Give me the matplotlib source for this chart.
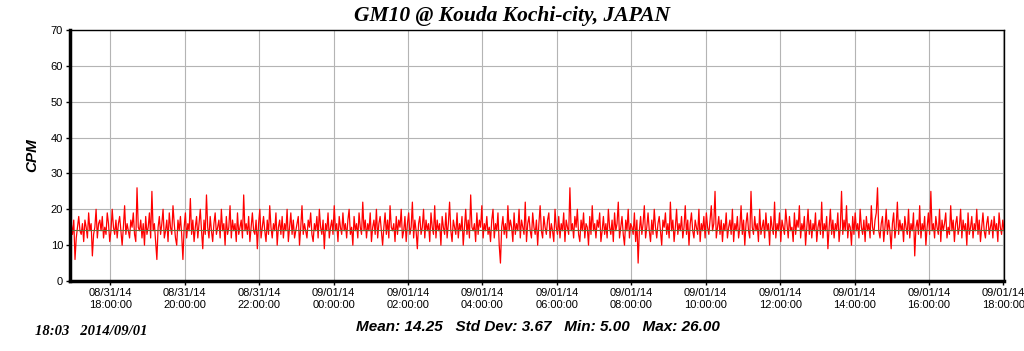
import numpy as np
import pandas as pd
import matplotlib
matplotlib.use('Agg')
from matplotlib import pyplot as plt
import matplotlib.dates as mdates

# CPM values, one every 2 minutes starting 08/31/14 16:55
cpm_text = '''
14 16 13 17 6 12 15 18 14 13 16 11 17 15 12 19 14 16 7 13 15 20 12 16
17 14 18 12 15 13 19 16 11 14 20 15 13 17 12 16 18 14 10 15 21 13 16 14
12 17 15 19 13 11 26 15 14 17 12 16 10 18 13 15 19 12 25 14 16 11 6 15
18 13 16 20 12 14 17 11 19 15 13 21 16 12 10 17 14 18 13 6 15 19 12 16
14 23 13 17 11 15 18 12 16 20 14 9 17 13 24 15 12 18 14 11 16 19 13 15
17 12 20 14 16 10 18 13 15 21 12 17 14 16 11 19 13 15 17 12 24 14 16 13
18 11 15 19 14 13 17 9 16 20 12 15 18 14 11 17 13 21 15 12 16 14 19 10
15 17 13 18 12 16 14 20 11 15 19 13 17 12 14 16 18 10 15 21 13 16 14 12
17 15 19 13 11 16 14 18 12 20 15 13 17 9 16 14 19 12 15 17 13 21 14 16
11 18 15 13 19 14 16 12 17 20 13 15 10 18 14 16 12 19 15 13 22 14 17 12
16 14 19 11 15 17 13 20 12 16 18 14 10 15 19 13 17 12 21 15 14 16 11 18
13 17 15 20 12 14 18 11 16 19 13 15 22 12 17 14 9 16 18 13 15 20 12 17
14 16 11 19 15 13 21 12 17 14 16 10 18 15 13 19 12 16 22 14 11 17 15 13
19 12 16 14 18 10 15 20 13 17 12 24 15 14 16 11 19 13 17 15 21 12 16 14
18 13 15 11 17 20 12 16 14 19 10 5 15 18 13 16 12 21 14 17 15 11 19 13
16 14 20 12 17 15 13 22 11 16 18 14 12 19 15 13 17 10 16 21 14 12 18 15
13 17 19 12 16 14 11 20 15 13 18 12 16 14 19 11 17 15 13 26 14 16 12 18
15 20 13 11 17 14 19 12 16 15 10 18 13 21 14 16 12 17 15 19 11 14 18 13
16 12 20 15 13 17 11 19 14 16 22 12 15 18 13 10 17 14 20 12 16 15 13 19
11 17 5 14 18 13 16 21 12 15 19 14 11 17 13 20 15 12 16 18 14 10 17 15
19 13 16 12 22 14 17 11 15 20 13 16 14 18 12 15 21 13 17 10 16 19 14 12
17 15 13 20 11 16 14 18 12 19 15 13 17 21 14 16 25 12 15 18 13 17 11 16
14 19 12 15 17 13 20 11 16 14 18 12 15 21 13 17 10 16 19 14 12 25 15 13
18 14 16 11 20 13 15 17 12 19 14 16 10 18 15 13 22 12 16 14 19 11 17 15
13 20 16 12 18 14 15 11 19 13 17 15 21 12 16 14 18 10 15 20 13 17 12 16
14 19 11 15 17 13 22 12 16 14 18 9 15 20 13 17 12 16 14 19 11 15 25 13
17 14 21 12 16 15 10 18 13 19 14 16 12 20 15 13 17 11 18 14 16 12 21 15
13 17 19 26 14 12 16 18 11 15 20 13 17 14 9 16 19 12 15 22 13 17 14 16
11 18 15 13 20 12 16 14 19 7 15 17 13 21 12 16 14 18 10 15 19 13 25 14
16 12 18 15 13 20 11 17 14 16 19 12 15 13 21 14 17 11 16 18 13 15 20 12
17 14 16 10 19 13 15 18 12 16 14 20 13 17 11 15 19 14 12 16 18 13 15 17
12 18 14 16 11 19 15 13 17 14 16 12 18 15 13 17 14 16 12 15 14 16 13 15
'''
cpm = [int(v) for v in cpm_text.split()]
times = pd.date_range('2014-08-31 16:55', periods=len(cpm), freq='2min')

mean_cpm = 14.25
title = 'GM10 @ Kouda Kochi-city, JAPAN'
stats = 'Mean: 14.25   Std Dev: 3.67   Min: 5.00   Max: 26.00'
stamp = '18:03   2014/09/01'

fig = plt.figure(figsize=(10.24, 3.51), dpi=100)
ax = fig.add_axes([0.0684, 0.1994, 0.9121, 0.7151])

ax.plot(times, cpm, color='red', lw=0.9)
ax.axhline(mean_cpm, color='#6b6b3a', lw=0.8)

ax.set_ylim(0, 70)
ax.set_yticks(range(0, 71, 10))
ax.set_xlim(pd.Timestamp('2014-08-31 16:55'), pd.Timestamp('2014-09-01 18:01'))
ax.xaxis.set_major_locator(mdates.HourLocator(byhour=range(0, 24, 2)))
ax.xaxis.set_major_formatter(mdates.DateFormatter('%m/%d/%y\n%H:%M:%S'))

ax.grid(True, color='#b4b4b4', lw=0.8)
ax.set_axisbelow(True)
for s in ['left', 'bottom']:
    ax.spines[s].set_linewidth(2.5)
for s in ['top', 'right']:
    ax.spines[s].set_linewidth(1)
ax.tick_params(labelsize=8, length=3, width=1, pad=2)
for lbl in ax.get_xticklabels() + ax.get_yticklabels():
    lbl.set_family('Liberation Sans')

ax.set_ylabel('CPM', family='Liberation Sans', fontsize=11, fontweight='bold',
              style='italic', labelpad=8)
fig.text(0.5, 0.955, title, ha='center', va='center', family='Liberation Serif',
         fontsize=15.5, fontweight='bold', style='italic')
fig.text(0.525, 0.068, stats, ha='center', va='center', family='Liberation Sans',
         fontsize=11, fontweight='bold', style='italic')
fig.text(0.034, 0.055, stamp, ha='left', va='center', family='Liberation Serif',
         fontsize=10.5, fontweight='bold', style='italic')

fig.savefig('out.png', dpi=100)
